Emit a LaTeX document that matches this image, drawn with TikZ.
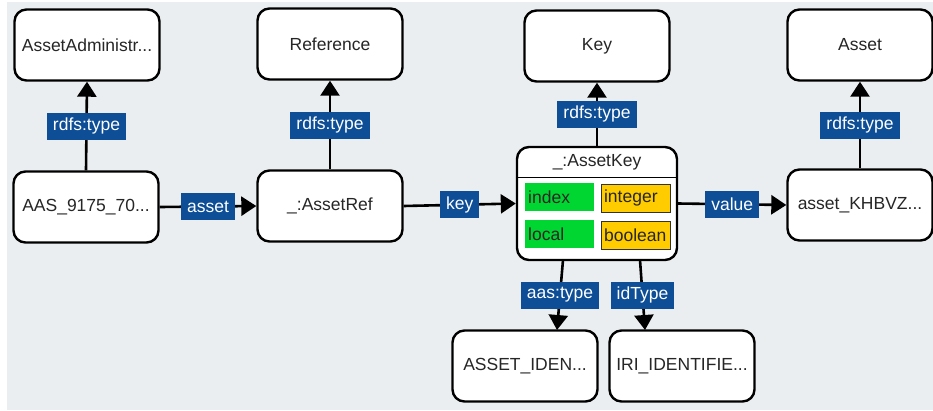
\documentclass[tikz,border=0pt]{standalone}
\usepackage{fontspec}
\setmainfont{Liberation Sans}
\usetikzlibrary{arrows.meta}
\definecolor{bg}{HTML}{EBEEF0}
\definecolor{lblue}{HTML}{0D4E96}
\definecolor{kgreen}{HTML}{00D632}
\definecolor{kyellow}{HTML}{FFCC00}
\tikzset{
  ent/.style={draw=black, line width=2.4pt, fill=white, rounded corners=12pt,
    minimum width=145pt, minimum height=71pt, inner sep=0pt,
    font=\fontsize{17.5}{20}\selectfont, text=black!85},
  lbl/.style={fill=lblue, text=white, inner xsep=6pt, inner ysep=0pt,
    minimum height=27pt, font=\fontsize{17.5}{20}\selectfont},
  conn/.style={line width=2.6pt, -{Triangle[width=19pt,length=15pt]}},
  field/.style={anchor=north west, minimum width=69pt, minimum height=28pt,
    inner xsep=3pt, inner ysep=0pt, text width=63pt, align=left,
    font=\fontsize{17.5}{20}\selectfont, text=black!85},
}
\begin{document}
\begin{tikzpicture}[x=1pt,y=-1pt]
\useasboundingbox (0,0) rectangle (933,410);
\fill[bg] (7,2) rectangle (933,410);

\node[ent] (aadm) at (87,45) {AssetAdministr...};
\node[ent] (ref) at (330,44) {Reference};
\node[ent] (keyc) at (597,46) {Key};
\node[ent] (asset) at (860,45) {Asset};
\node[ent] (aas) at (86,207) {AAS\_9175\_70...};
\node[ent] (aref) at (330,206) {\_:AssetRef};
\node[ent] (aval) at (860,205) {asset\_KHBVZ...};
\node[ent] (aid) at (525,366) {ASSET\_IDEN...};
\node[ent] (iri) at (682,366) {IRI\_IDENTIFIE...};

% AssetKey compound node
\node[draw=black, line width=2.4pt, fill=white, rounded corners=12pt,
  minimum width=160pt, minimum height=113pt, inner sep=0pt] (akey) at (597,203.5) {};
\node[font=\fontsize{17.5}{20}\selectfont, text=black!85, inner sep=0pt] (akeyt) at (597,162) {\_:AssetKey};
\draw[line width=1pt] (akey.west |- 0,177) coordinate (sepl) -- (akey.east |- 0,177) coordinate (sepr);
\node[field, fill=kgreen] (fidx) at (525,183) {index};
\node[field, fill=kyellow, draw=black!80, line width=1.2pt] (fint) at (600.5,183.5) {integer};
\node[field, fill=kgreen] (floc) at (525,220) {local};
\node[field, fill=kyellow, draw=black!80, line width=1.2pt] (fbool) at (600.5,220.5) {boolean};

\coordinate (ks1) at (563,260);
\coordinate (ks2) at (640,260);
\coordinate (ae1) at (557,330);
\coordinate (ae2) at (645,330);

\draw[conn] (aas.north) -- node[lbl]{rdfs:type} (aadm.south);
\draw[conn] (aref.north) -- node[lbl]{rdfs:type} (ref.south);
\draw[conn] (akey.north) -- node[lbl]{rdfs:type} (keyc.south);
\draw[conn] (aval.north) -- node[lbl]{rdfs:type} (asset.south);
\draw[conn] (aas.east) -- node[lbl]{asset} (aref.west);
\draw[conn] (aref.east) -- node[lbl]{key} (akey.west);
\draw[conn] (akey.east) -- node[lbl]{value} (aval.west);
\draw[conn] (ks1) -- node[lbl]{aas:type} (ae1);
\draw[conn] (ks2) -- node[lbl]{idType} (ae2);
\end{tikzpicture}
\end{document}
